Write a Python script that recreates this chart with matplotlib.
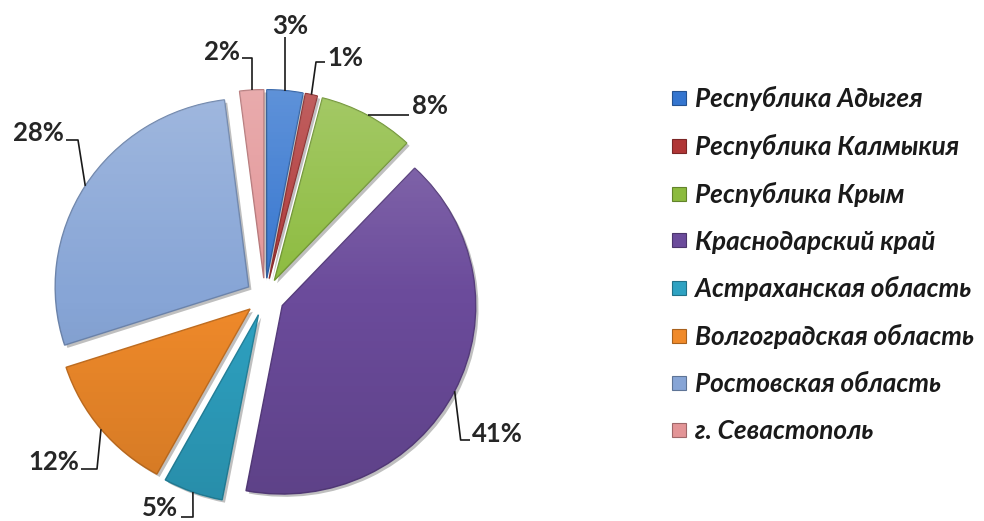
import matplotlib
matplotlib.use('Agg')
import matplotlib.pyplot as plt
import numpy as np
from matplotlib.lines import Line2D
from matplotlib import patheffects as pe
from matplotlib.font_manager import FontProperties
import matplotlib.colors as mcolors

# ---- data ----
regions = ['Республика Адыгея', 'Республика Калмыкия', 'Республика Крым',
           'Краснодарский край', 'Астраханская область', 'Волгоградская область',
           'Ростовская область', 'г. Севастополь']
shares = [3, 1, 8, 41, 5, 12, 28, 2]
pct_labels = [f'{v}%' for v in shares]
colors = ['#3475cf', '#b03636', '#8cbb3e', '#6b4b9b',
          '#2ea2c2', '#f08a2a', '#87a5d6', '#e39597']

W, H = 984, 521
fig = plt.figure(figsize=(W / 100, H / 100), dpi=100)
ax = fig.add_axes([0, 0, 1, 1])

# pixel mapping for pie centre / radius
CX, CY = 265, 297
SX, SY = 193.5, 188.5


def px2d(px, py):
    return (px - CX) / SX, (CY - py) / SY


def darker(c, f=0.75):
    r, g, b = mcolors.to_rgb(c)
    return (r * f, g * f, b * f)


wedges, _ = ax.pie(shares, explode=[0.1] * len(shares), startangle=90,
                   counterclock=False, colors=colors,
                   wedgeprops=dict(linewidth=1.0))
for w, c in zip(wedges, colors):
    w.set_edgecolor(darker(c, 0.8))
    w.set_path_effects([pe.SimplePatchShadow(offset=(2, -2), alpha=0.25,
                                             shadow_rgbFace='k'), pe.Normal()])

# subtle vertical sheen on each wedge (light top, darker bottom)
n = 256
t = np.linspace(0, 1, n)[:, None]
sheen = np.zeros((n, 2, 4))
top_alpha = np.clip((0.5 - t) * 0.5, 0, None)
bot_alpha = np.clip((t - 0.5) * 0.3, 0, None)
sheen[..., :3] = np.where(t[..., None] < 0.5, 1.0, 0.0)
sheen[..., 3] = (top_alpha + bot_alpha)
for w in wedges:
    im = ax.imshow(sheen, extent=[-1.3, 1.3, -1.3, 1.3], aspect='auto',
                   zorder=w.get_zorder() + 0.01, interpolation='bilinear')
    im.set_clip_path(w)

ax.set_xlim(-CX / SX, (W - CX) / SX)
ax.set_ylim(-(H - CY) / SY, CY / SY)
ax.set_aspect('auto')
ax.axis('off')

renderer = fig.canvas.get_renderer()

# percentage label font
lab_fp = FontProperties(family=['Lato', 'Open Sans', 'DejaVu Sans'], weight='bold', size=10)
w10, _, _ = renderer.get_text_width_height_descent('41%', lab_fp, ismath=False)
lab_size = 10 * 51 / w10
lab_fp.set_size(lab_size)

# label layout (pixel positions of elbows / text) per slice
layout = [
    dict(path=[('ax', 37)], text=(290, 26), ha='center'),
    dict(path=[(316, 62), (325, 62)], text=(327, 58), ha='left'),
    dict(path=[(409, 'ay')], text=(412, 106), ha='left'),
    dict(path=[('ax+6', 440), (470, 440)], text=(472, 434), ha='left'),
    dict(path=[(193, 517), (181, 517)], text=(178, 508), ha='right'),
    dict(path=[(97, 469), (81, 469)], text=(79, 462), ha='right'),
    dict(path=[(78, 140), (66, 140)], text=(64, 133), ha='right'),
    dict(path=[('ax', 58), (242, 58)], text=(240, 52), ha='right'),
]

for w, lab, lay in zip(wedges, pct_labels, layout):
    th = np.deg2rad((w.theta1 + w.theta2) / 2)
    ax_d = w.center[0] + w.r * np.cos(th)
    ay_d = w.center[1] + w.r * np.sin(th)
    apx = CX + ax_d * SX
    apy = CY - ay_d * SY
    xs, ys = [ax_d], [ay_d]
    for (px, py) in lay['path']:
        if px == 'ax':
            px = apx
        elif px == 'ax+6':
            px = apx + 6
        if py == 'ay':
            py = apy
        dx, dy = px2d(px, py)
        xs.append(dx)
        ys.append(dy)
    ax.plot(xs, ys, color='#1a1a1a', lw=1.2, solid_capstyle='butt', zorder=5)
    tx, ty = px2d(*lay['text'])
    ax.text(tx, ty, lab, ha=lay['ha'], va='center', fontproperties=lab_fp,
            color='#262626', zorder=6)

# legend
leg_fp = FontProperties(family=['Lato', 'Open Sans', 'DejaVu Sans'], style='italic',
                        weight='bold', size=10)
w10, _, _ = renderer.get_text_width_height_descent('Волгоградская область', leg_fp, ismath=False)
leg_size = 10 * 278 / w10
leg_fp.set_size(leg_size)

handles = [Line2D([], [], linestyle='none', marker='s', markersize=9.5,
                  markerfacecolor=c, markeredgecolor=darker(c, 0.7), markeredgewidth=0.8)
           for c in colors]
em = leg_size * 100 / 72
fig.legend(handles, regions, loc='upper left',
           bbox_to_anchor=(669 / W, 1 - 86 / H), frameon=False, prop=leg_fp,
           handlelength=19 / em, handletextpad=7 / em, borderpad=0, borderaxespad=0,
           labelspacing=(47 - em * 1.17) / em + 6.3 / em, labelcolor='#1a1a1a')

fig.savefig('out.png', dpi=100, facecolor='white')
